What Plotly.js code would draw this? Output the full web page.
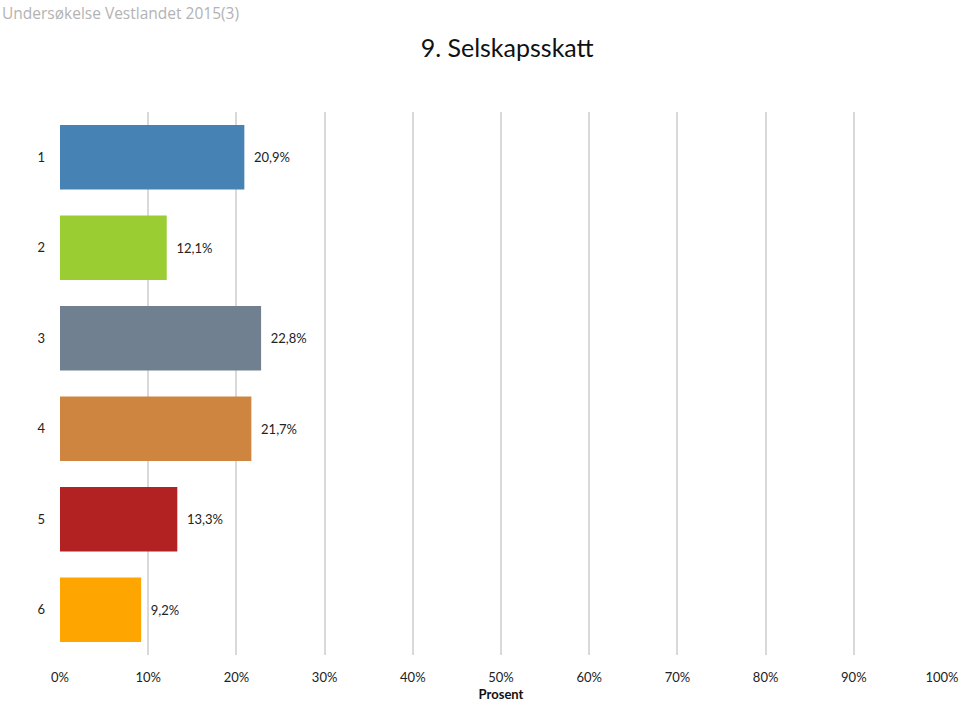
<!DOCTYPE html>
<html>
<head>
<meta charset="utf-8">
<script src="https://cdn.plot.ly/plotly-3.0.1.min.js"></script>
<style>html,body{margin:0;padding:0;background:#fff;}#chart{width:960px;height:702px;}</style>
</head>
<body>
<div id="chart"></div>
<script>
const categories = ["1", "2", "3", "4", "5", "6"];
const values = [20.9, 12.1, 22.8, 21.7, 13.3, 9.2];
const labels = ["20,9%", "12,1%", "22,8%", "21,7%", "13,3%", "9,2%"];
const colors = ["#4682B4", "#9ACD32", "#708090", "#CD853F", "#B22222", "#FFA500"];
const tickVals = [0, 10, 20, 30, 40, 50, 60, 70, 80, 90, 100];
const tickText = ["0%", "10%", "20%", "30%", "40%", "50%", "60%", "70%", "80%", "90%", "100%"];

const font = "Lato, 'Open Sans', sans-serif";

const trace = {
  type: "bar",
  orientation: "h",
  y: categories,
  x: values,
  text: labels.map(t => "  " + t),
  textposition: "outside",
  cliponaxis: false,
  textfont: {family: font, size: 13, color: "#222"},
  marker: {color: colors},
  hoverinfo: "none"
};

const layout = {
  width: 960,
  height: 702,
  margin: {l: 60, r: 18, t: 112, b: 47},
  paper_bgcolor: "#fff",
  plot_bgcolor: "#fff",
  showlegend: false,
  bargap: 0.29,
  title: {
    text: "9. Selskapsskatt",
    font: {family: font, size: 25, color: "#111"},
    x: 0.507, xanchor: "center", xref: "paper",
    y: 1 - 48 / 702, yanchor: "middle"
  },
  xaxis: {
    range: [0, 100],
    tickvals: tickVals,
    ticktext: tickText,
    showgrid: true,
    gridcolor: "#d9d9d9",
    gridwidth: 2,
    zeroline: false,
    showline: false,
    tickfont: {family: font, size: 13, color: "#222"},
    ticks: "",
    ticklabelstandoff: 13,
    title: {text: "<b>Prosent</b>", font: {family: font, size: 13, color: "#111"}, standoff: 9},
    fixedrange: true
  },
  yaxis: {
    type: "category",
    autorange: "reversed",
    showgrid: false,
    zeroline: false,
    showline: false,
    ticks: "",
    ticklabelstandoff: 14,
    tickfont: {family: font, size: 13, color: "#222"},
    fixedrange: true
  },
  annotations: [{
    text: "Undersøkelse Vestlandet 2015(3)",
    xref: "paper", yref: "paper",
    x: -60 / 882, y: 1 + 112 / 543,
    xanchor: "left", yanchor: "top",
    showarrow: false,
    font: {family: "'Open Sans', sans-serif", size: 15.5, color: "#b3b3b3"}
  }]
};

Plotly.newPlot("chart", [trace], layout, {displayModeBar: false, staticPlot: true});
</script>
</body>
</html>
